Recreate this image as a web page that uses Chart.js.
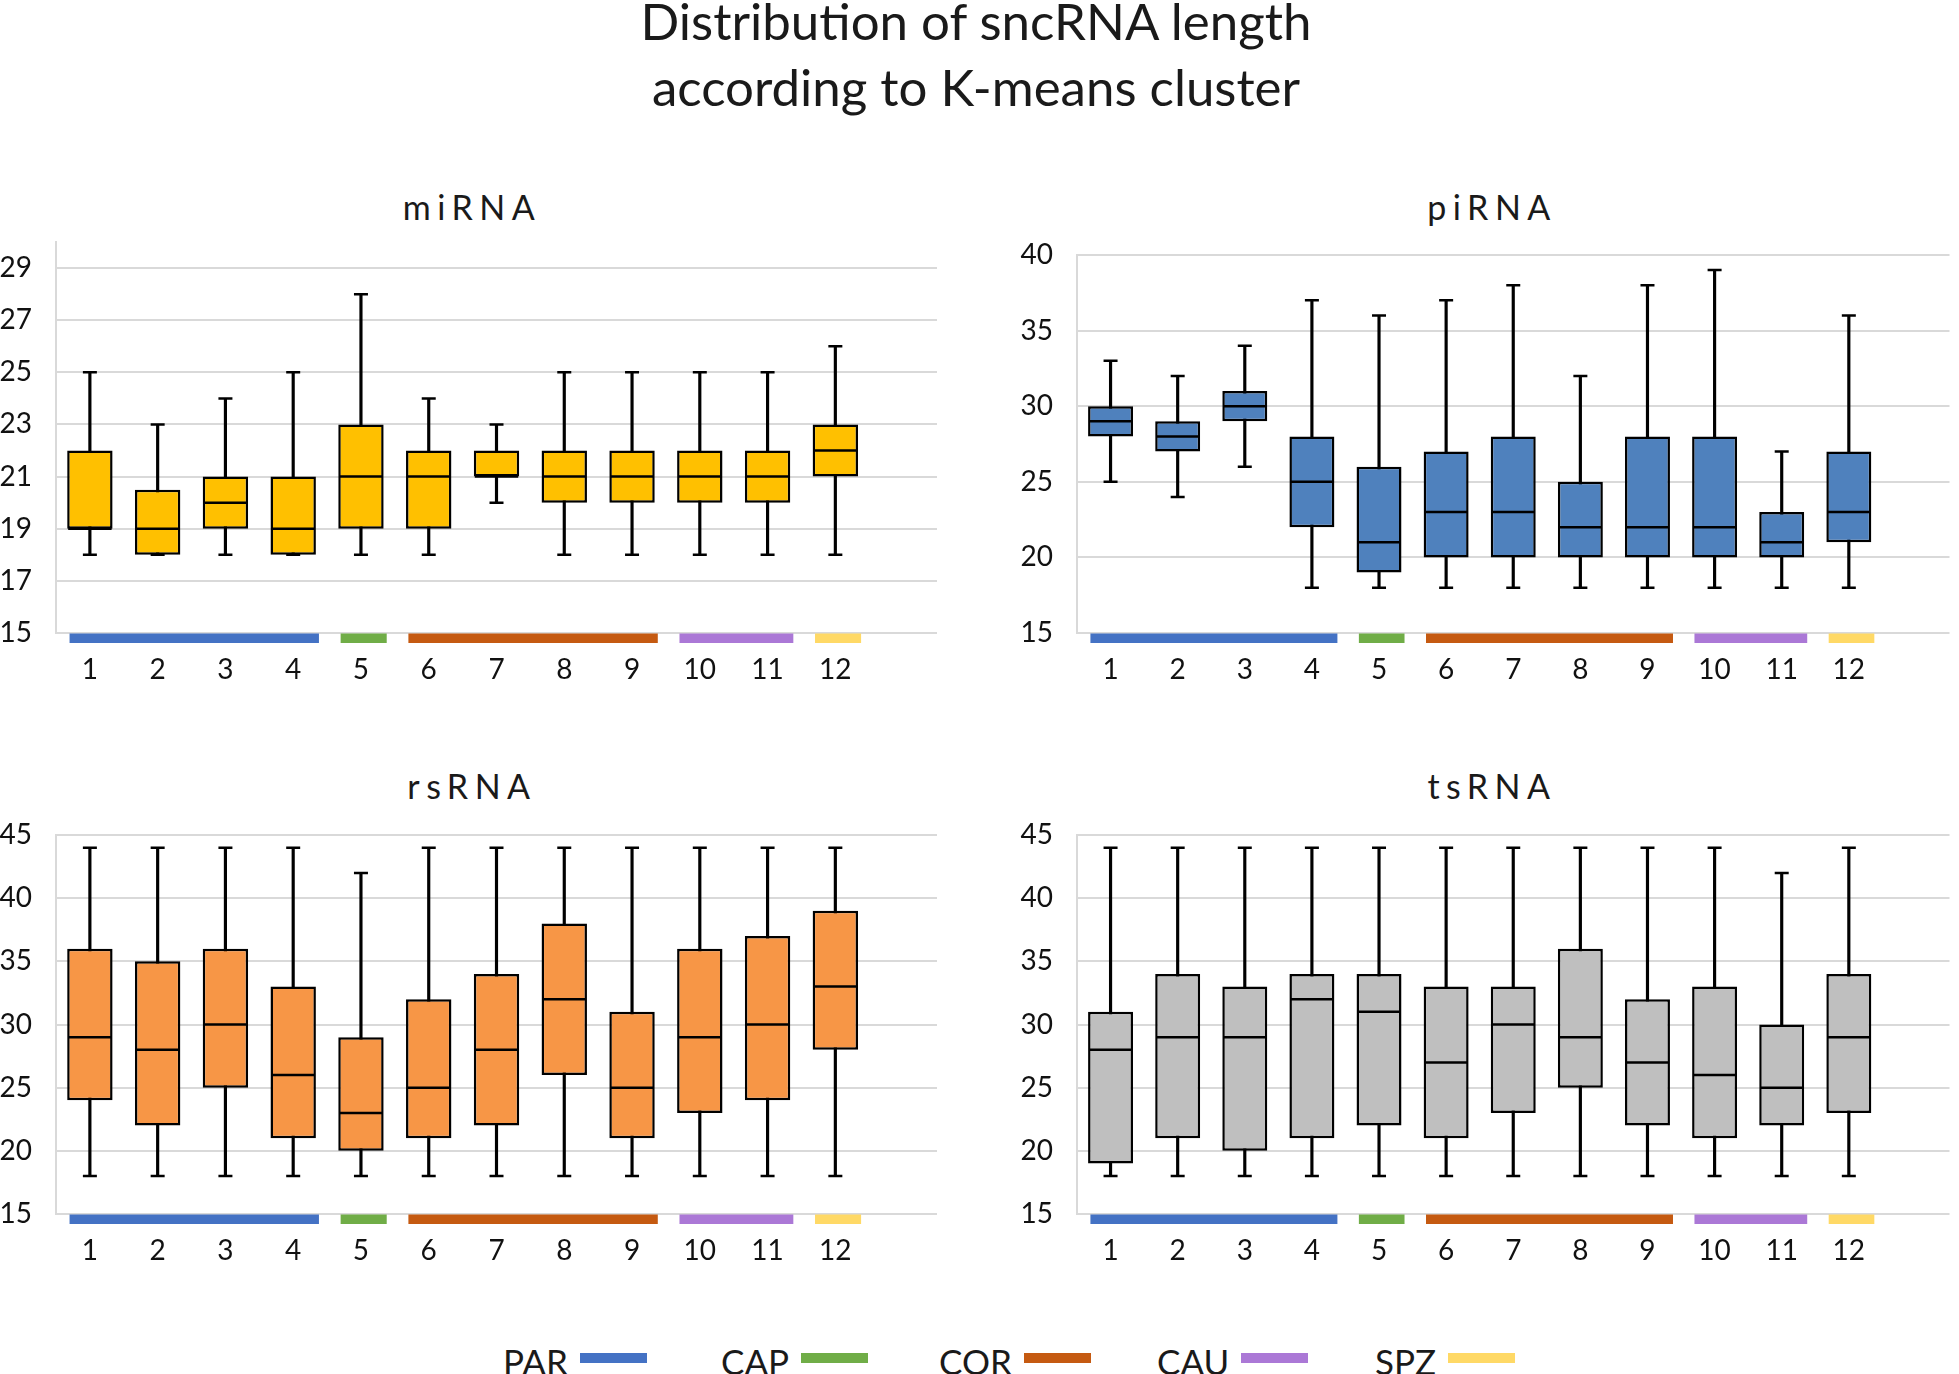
<!DOCTYPE html>
<html>
<head>
<meta charset="utf-8">
<script src="https://cdn.jsdelivr.net/npm/chart.js@4.4.1/dist/chart.umd.min.js"></script>
<style>
  html, body { margin: 0; padding: 0; background: #ffffff; }
  #page { position: relative; width: 1959px; height: 1374px; overflow: hidden; background: #ffffff;
          font-family: Lato, "Open Sans", sans-serif; color: #1a1a1a; }
  .main-title { position: absolute; left: 0; top: -12px; width: 1952px; text-align: center;
                font-size: 51px; line-height: 66px; }
  .ptitle { position: absolute; width: 400px; text-align: center; font-size: 34px; line-height: 41px;
            letter-spacing: 6.5px; padding-left: 6px; }
  canvas { position: absolute; }
  .leg { position: absolute; display: flex; align-items: flex-start; font-size: 35px; line-height: 42px; white-space: nowrap; }
  .sw { width: 67px; height: 10px; margin-left: 12px; margin-top: 13px; }
</style>
</head>
<body>
<div id="page">
  <div class="main-title">Distribution of sncRNA length<br>according to K-means cluster</div>
  <div class="ptitle" style="left:266px; top:186px;">miRNA</div>
  <div class="ptitle" style="left:1286px; top:186px;">piRNA</div>
  <div class="ptitle" style="left:266px; top:765px;">rsRNA</div>
  <div class="ptitle" style="left:1286px; top:765px;">tsRNA</div>
  <canvas id="c_mirna" width="950" height="480" style="left:0px; top:225px;"></canvas>
  <canvas id="c_pirna" width="959" height="480" style="left:1000px; top:225px;"></canvas>
  <canvas id="c_rsrna" width="950" height="470" style="left:0px; top:815px;"></canvas>
  <canvas id="c_tsrna" width="959" height="470" style="left:1000px; top:815px;"></canvas>
  <div id="legend"></div>
</div>
<script>
// ---------------- data ----------------
const categories = ['1','2','3','4','5','6','7','8','9','10','11','12'];

const groupNames  = ['PAR', 'CAP', 'COR', 'CAU', 'SPZ'];
const groupFirst  = [1, 5, 6, 10, 12];
const groupLast   = [4, 5, 9, 11, 12];
const groupColors = ['#4472C4', '#70AD47', '#C55A11', '#AB78D6', '#FFD966'];

const miRNA_min = [18, 18, 18, 18, 18, 18, 20, 18, 18, 18, 18, 18];
const miRNA_q1  = [19, 18, 19, 18, 19, 19, 21, 20, 20, 20, 20, 21];
const miRNA_med = [19, 19, 20, 19, 21, 21, 21, 21, 21, 21, 21, 22];
const miRNA_q3  = [22, 20.5, 21, 21, 23, 22, 22, 22, 22, 22, 22, 23];
const miRNA_max = [25, 23, 24, 25, 28, 24, 23, 25, 25, 25, 25, 26];
const miRNA_ticks = [15, 17, 19, 21, 23, 25, 27, 29];

const piRNA_min = [25, 24, 26, 18, 18, 18, 18, 18, 18, 18, 18, 18];
const piRNA_q1  = [28, 27, 29, 22, 19, 20, 20, 20, 20, 20, 20, 21];
const piRNA_med = [29, 28, 30, 25, 21, 23, 23, 22, 22, 22, 21, 23];
const piRNA_q3  = [30, 29, 31, 28, 26, 27, 28, 25, 28, 28, 23, 27];
const piRNA_max = [33, 32, 34, 37, 36, 37, 38, 32, 38, 39, 27, 36];
const piRNA_ticks = [15, 20, 25, 30, 35, 40];

const rsRNA_min = [18, 18, 18, 18, 18, 18, 18, 18, 18, 18, 18, 18];
const rsRNA_q1  = [24, 22, 25, 21, 20, 21, 22, 26, 21, 23, 24, 28];
const rsRNA_med = [29, 28, 30, 26, 23, 25, 28, 32, 25, 29, 30, 33];
const rsRNA_q3  = [36, 35, 36, 33, 29, 32, 34, 38, 31, 36, 37, 39];
const rsRNA_max = [44, 44, 44, 44, 42, 44, 44, 44, 44, 44, 44, 44];
const rsRNA_ticks = [15, 20, 25, 30, 35, 40, 45];

const tsRNA_min = [18, 18, 18, 18, 18, 18, 18, 18, 18, 18, 18, 18];
const tsRNA_q1  = [19, 21, 20, 21, 22, 21, 23, 25, 22, 21, 22, 23];
const tsRNA_med = [28, 29, 29, 32, 31, 27, 30, 29, 27, 26, 25, 29];
const tsRNA_q3  = [31, 34, 33, 34, 34, 33, 33, 36, 32, 33, 30, 34];
const tsRNA_max = [44, 44, 44, 44, 44, 44, 44, 44, 44, 44, 42, 44];
const tsRNA_ticks = [15, 20, 25, 30, 35, 40, 45];

// ---------------- styling ----------------
const FONT = 'Lato';
const TEXT = '#111111';
const GRID = '#d9d9d9';
const LINE_W = 2.5;
const BOX_FRAC = 0.67;
const GROUP_PAD_L = 0.3, GROUP_PAD_R = 0.38;

// legend (HTML)
const legendEl = document.getElementById('legend');
groupNames.forEach((name, i) => {
  const item = document.createElement('div');
  item.className = 'leg';
  item.style.left = (503 + i * 218) + 'px';
  item.style.top = '1340px';
  const t = document.createElement('span');
  t.textContent = name;
  const sw = document.createElement('span');
  sw.className = 'sw';
  sw.style.background = groupColors[i];
  item.appendChild(t); item.appendChild(sw);
  legendEl.appendChild(item);
});

const groupBarsPlugin = {
  id: 'groupBars',
  afterDraw(chart) {
    const xs = chart.scales.x, ys = chart.scales.y, ctx = chart.ctx;
    const slot = xs.width / chart.data.labels.length;
    const y0 = ys.getPixelForValue(ys.min) + 0.5;
    ctx.save();
    groupNames.forEach((name, i) => {
      const x0 = xs.getPixelForValue(groupFirst[i] - 1) - slot * GROUP_PAD_L;
      const x1 = xs.getPixelForValue(groupLast[i] - 1) + slot * GROUP_PAD_R;
      ctx.fillStyle = groupColors[i];
      ctx.fillRect(x0, y0, x1 - x0, 9.5);
    });
    ctx.restore();
  }
};

function makeBoxChart(id, d, layout) {
  const labels = [...categories, ''];
  const pad = arr => [...arr, null];
  const whiskers = pad(categories.map((_, i) => [d.min[i], d.max[i]]));
  const boxes = pad(categories.map((_, i) => [d.q1[i], d.q3[i]]));
  const halfBox = ctx => {
    const xs = ctx.chart.scales && ctx.chart.scales.x;
    return xs ? xs.width / labels.length * BOX_FRAC / 2 - 1 : 20;
  };
  const markLine = (data, radius, order) => ({
    type: 'line', data: pad(data), showLine: false,
    pointStyle: 'line', pointRadius: radius, pointHoverRadius: radius,
    pointBorderColor: '#000', pointBorderWidth: LINE_W, pointBackgroundColor: '#000',
    order: order
  });
  return new Chart(document.getElementById(id), {
    data: {
      labels: labels,
      datasets: [
        { type: 'bar', data: whiskers, backgroundColor: '#000', barThickness: LINE_W,
          grouped: false, order: 4 },
        { type: 'bar', data: boxes, backgroundColor: d.color, borderColor: '#000', borderWidth: LINE_W,
          borderSkipped: false, barPercentage: BOX_FRAC, categoryPercentage: 1, grouped: false, order: 3 },
        markLine(d.med, halfBox, 1),
        markLine(d.max, 7, 2),
        markLine(d.min, 7, 2)
      ]
    },
    options: {
      responsive: false,
      animation: false,
      events: [],
      layout: { padding: { top: layout.padTop, right: layout.padRight, left: 0, bottom: 0 } },
      plugins: { legend: { display: false }, tooltip: { enabled: false }, title: { display: false } },
      scales: {
        x: {
          type: 'category',
          grid: { display: false, drawTicks: false },
          border: { display: false },
          ticks: { padding: 20, color: TEXT, font: { family: FONT, size: 28 }, maxRotation: 0, autoSkip: false },
          afterFit: s => { s.height = layout.xH; s.paddingLeft = 0; s.paddingRight = 0; }
        },
        y: {
          type: 'linear', min: d.ticks[0], max: d.yMax,
          afterBuildTicks: s => { s.ticks = d.ticks.map(v => ({ value: v })); },
          afterFit: s => { s.width = layout.yW; s.paddingTop = 0; s.paddingBottom = 0; },
          grid: { color: GRID, lineWidth: 2, drawTicks: false },
          border: { display: true, color: GRID, width: 2 },
          ticks: { padding: 24, color: TEXT, font: { family: FONT, size: 28 } }
        }
      }
    },
    plugins: [groupBarsPlugin]
  });
}

function build() {
  makeBoxChart('c_mirna', { min: miRNA_min, q1: miRNA_q1, med: miRNA_med, q3: miRNA_q3, max: miRNA_max,
    ticks: miRNA_ticks, yMax: 30, color: '#FFC000' }, { padTop: 17, padRight: 13, xH: 72, yW: 56 });
  makeBoxChart('c_pirna', { min: piRNA_min, q1: piRNA_q1, med: piRNA_med, q3: piRNA_q3, max: piRNA_max,
    ticks: piRNA_ticks, yMax: 40, color: '#4F81BD' }, { padTop: 30, padRight: 0, xH: 72, yW: 77 });
  makeBoxChart('c_rsrna', { min: rsRNA_min, q1: rsRNA_q1, med: rsRNA_med, q3: rsRNA_q3, max: rsRNA_max,
    ticks: rsRNA_ticks, yMax: 45, color: '#F79646' }, { padTop: 20, padRight: 13, xH: 71, yW: 56 });
  makeBoxChart('c_tsrna', { min: tsRNA_min, q1: tsRNA_q1, med: tsRNA_med, q3: tsRNA_q3, max: tsRNA_max,
    ticks: tsRNA_ticks, yMax: 45, color: '#BFBFBF' }, { padTop: 20, padRight: 0, xH: 71, yW: 77 });
}
if (document.fonts && document.fonts.load) {
  Promise.all([document.fonts.load('28px Lato'), document.fonts.load('51px Lato')]).then(build, build);
} else { build(); }
</script>
</body>
</html>
